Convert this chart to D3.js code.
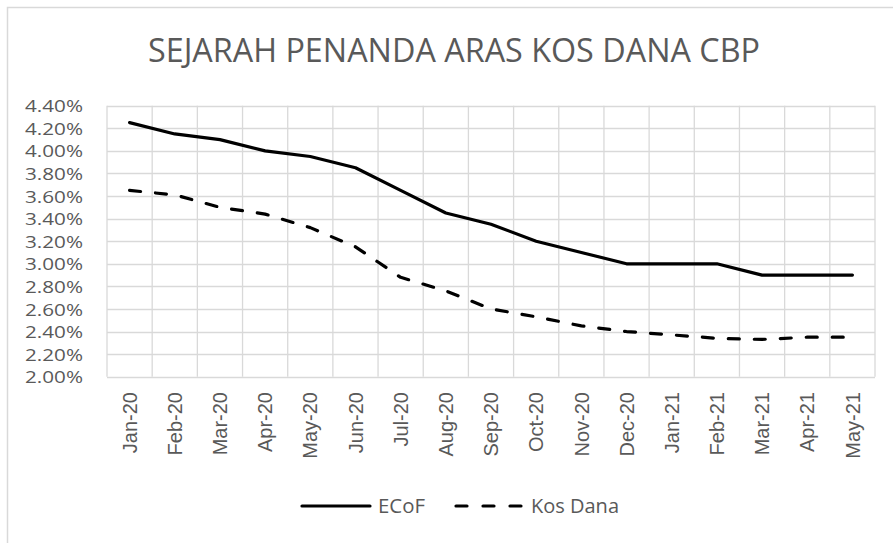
<!DOCTYPE html>
<html>
<head>
<meta charset="utf-8">
<script src="https://cdn.jsdelivr.net/npm/d3@7"></script>
<style>
  html, body { margin: 0; padding: 0; background: #fff; }
  svg { display: block; }
</style>
</head>
<body>
<script>
const months = ["Jan-20","Feb-20","Mar-20","Apr-20","May-20","Jun-20","Jul-20","Aug-20","Sep-20","Oct-20","Nov-20","Dec-20","Jan-21","Feb-21","Mar-21","Apr-21","May-21"];
const ecof = [4.25,4.15,4.10,4.00,3.95,3.85,3.65,3.45,3.35,3.20,3.10,3.00,3.00,3.00,2.90,2.90,2.90];
const kosDana = [3.65,3.61,3.50,3.44,3.32,3.15,2.88,2.76,2.60,2.53,2.45,2.40,2.37,2.34,2.33,2.35,2.35];
const yTicks = [2.0,2.2,2.4,2.6,2.8,3.0,3.2,3.4,3.6,3.8,4.0,4.2,4.4];
const title = "SEJARAH PENANDA ARAS KOS DANA CBP";
const seriesNames = ["ECoF","Kos Dana"];

const W = 893, H = 543;
const svg = d3.select("body").append("svg").attr("width", W).attr("height", H);

// outer chart border (left + top visible)
svg.append("path").attr("d", "M7.5,543 V7.5 H893").attr("fill","none").attr("stroke","#d9d9d9").attr("stroke-width",1.5);

const pL = 107, pR = 875, pT = 105.7, pB = 376.7;
const x = d3.scaleBand().domain(months).range([pL, pR]).padding(0);
const y = d3.scaleLinear().domain([2.0, 4.4]).range([pB, pT]);

// title
svg.append("text").attr("x", 454).attr("y", 61.5)
  .attr("text-anchor","middle")
  .attr("font-family","'Open Sans', sans-serif").attr("font-size", 32)
  .attr("fill","#595959")
  .attr("textLength", 612).attr("lengthAdjust","spacingAndGlyphs")
  .text(title);

// horizontal gridlines
const g = svg.append("g");
g.selectAll("line.h").data(yTicks).enter().append("line")
  .attr("x1", pL).attr("x2", pR)
  .attr("y1", d => Math.round(y(d)) + 0.5).attr("y2", d => Math.round(y(d)) + 0.5)
  .attr("stroke","#d9d9d9").attr("stroke-width",1.3);
// vertical gridlines at band boundaries
const bounds = months.map(m => x(m)).concat([x(months[months.length-1]) + x.bandwidth()]);
g.selectAll("line.v").data(bounds).enter().append("line")
  .attr("x1", d => d).attr("x2", d => d)
  .attr("y1", pT).attr("y2", pB)
  .attr("stroke","#d9d9d9").attr("stroke-width",1.3);

// y axis labels
const yAxis = d3.axisLeft(y).tickValues(yTicks).tickFormat(d => d.toFixed(2) + "%").tickSize(0).tickPadding(0);
const ya = svg.append("g").attr("transform", `translate(83,0)`).call(yAxis);
ya.select(".domain").remove();
ya.selectAll("text").attr("font-family","'Open Sans', sans-serif").attr("font-size", 17).attr("fill","#595959").attr("dy","0.36em")
  .attr("textLength", 58).attr("lengthAdjust","spacingAndGlyphs");

// x axis labels
const xAxis = d3.axisBottom(x).tickSize(0).tickPadding(0);
const xa = svg.append("g").attr("transform", `translate(0,392)`).call(xAxis);
xa.select(".domain").remove();
xa.selectAll("text")
  .attr("font-family","'Liberation Sans', Arial, sans-serif").attr("font-size", 20).attr("fill","#595959")
  .attr("text-anchor","end").attr("transform","rotate(-90)")
  .attr("x", 0).attr("y", 0).attr("dy","0.36em");

// lines
const line = d3.line().x((d,i) => x(months[i]) + x.bandwidth()/2).y(d => y(d));
svg.append("path").datum(ecof).attr("d", line).attr("fill","none").attr("stroke","#000").attr("stroke-width",3.2).attr("stroke-linejoin","round").attr("stroke-linecap","round");
svg.append("path").datum(kosDana).attr("d", line).attr("fill","none").attr("stroke","#000").attr("stroke-width",3.2).attr("stroke-linejoin","round").attr("stroke-linecap","round").attr("stroke-dasharray","11,15");

// legend
const leg = svg.append("g");
leg.append("line").attr("x1",302).attr("x2",370).attr("y1",506).attr("y2",506).attr("stroke","#000").attr("stroke-width",3.2).attr("stroke-linecap","round");
leg.append("text").attr("x",378).attr("y",506).attr("dy","0.36em").attr("font-family","'Open Sans', sans-serif").attr("font-size",20).attr("fill","#595959").attr("textLength",47).attr("lengthAdjust","spacingAndGlyphs").text(seriesNames[0]);
leg.append("line").attr("x1",456).attr("x2",522).attr("y1",506).attr("y2",506).attr("stroke","#000").attr("stroke-width",3.2).attr("stroke-linecap","round").attr("stroke-dasharray","11,16");
leg.append("text").attr("x",531).attr("y",506).attr("dy","0.36em").attr("font-family","'Open Sans', sans-serif").attr("font-size",20).attr("fill","#595959").attr("textLength",88).attr("lengthAdjust","spacingAndGlyphs").text(seriesNames[1]);
</script>
</body>
</html>
